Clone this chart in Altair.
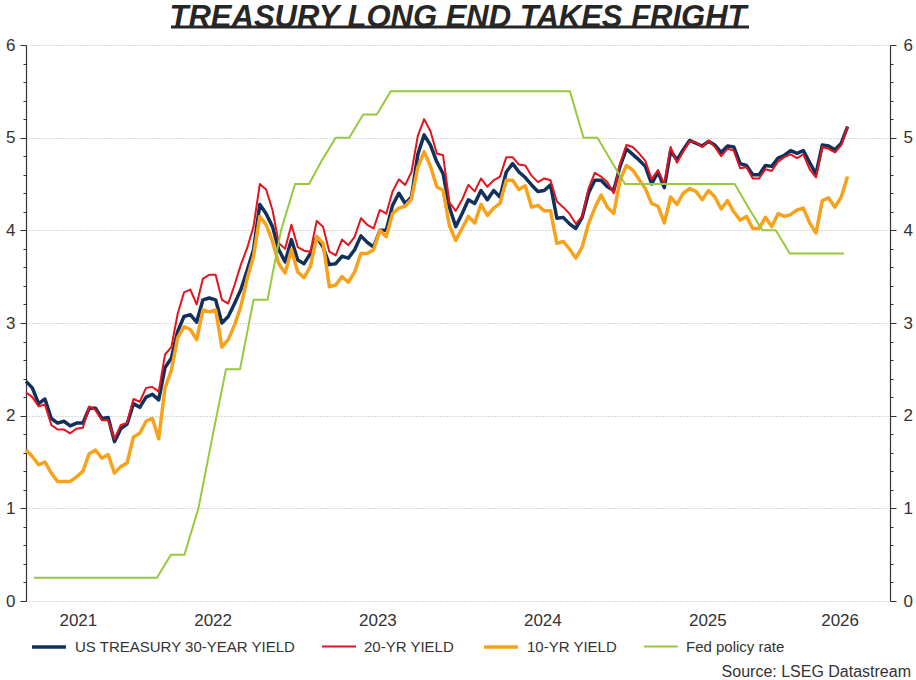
import altair as alt
import pandas as pd

# ---- data -------------------------------------------------------------
# Treasury yields, one observation every two weeks from 14 May 2021 (%)
OBS_START = "2021-05-14"

UST30 = [2.37, 2.30, 2.13, 2.18, 1.97, 1.92, 1.94, 1.89, 1.92, 1.92,
         2.08, 2.08, 1.97, 1.98, 1.72, 1.86, 1.91, 2.13, 2.09, 2.20,
         2.23, 2.17, 2.52, 2.62, 2.91, 3.07, 3.09, 3.01, 3.25, 3.27,
         3.25, 3.00, 3.07, 3.21, 3.36, 3.57, 3.79, 4.28, 4.18, 4.04,
         3.79, 3.66, 3.90, 3.68, 3.64, 3.75, 3.93, 3.82, 3.63, 3.64,
         3.72, 3.70, 3.79, 3.94, 3.87, 3.82, 4.00, 4.00, 4.27, 4.40,
         4.29, 4.36, 4.82, 5.03, 4.92, 4.74, 4.61, 4.25, 4.04, 4.18,
         4.33, 4.29, 4.43, 4.33, 4.43, 4.36, 4.63, 4.72, 4.63, 4.57,
         4.49, 4.42, 4.43, 4.49, 4.13, 4.14, 4.07, 4.02, 4.14, 4.40,
         4.54, 4.54, 4.47, 4.43, 4.69, 4.88, 4.82, 4.76, 4.69, 4.50,
         4.63, 4.46, 4.86, 4.76, 4.87, 4.97, 4.94, 4.91, 4.96, 4.92,
         4.84, 4.91, 4.90, 4.72, 4.70, 4.60, 4.60, 4.70, 4.69, 4.78,
         4.81, 4.86, 4.83, 4.86, 4.73, 4.61, 4.92, 4.91, 4.87, 4.94,
         5.12]

UST20 = [2.25, 2.20, 2.10, 2.12, 1.90, 1.85, 1.85, 1.81, 1.86, 1.87,
         2.10, 2.06, 1.95, 1.95, 1.75, 1.90, 1.92, 2.18, 2.15, 2.30,
         2.31, 2.26, 2.66, 2.74, 3.10, 3.33, 3.36, 3.20, 3.48, 3.52,
         3.52, 3.25, 3.21, 3.41, 3.63, 3.81, 4.04, 4.50, 4.44, 4.22,
         3.86, 3.80, 4.06, 3.82, 3.78, 3.77, 4.10, 4.04, 3.77, 3.73,
         3.90, 3.84, 3.93, 4.13, 4.06, 4.02, 4.22, 4.18, 4.42, 4.55,
         4.49, 4.63, 5.02, 5.20, 5.07, 4.83, 4.81, 4.30, 4.21, 4.33,
         4.49, 4.42, 4.56, 4.47, 4.54, 4.58, 4.79, 4.79, 4.71, 4.70,
         4.59, 4.52, 4.56, 4.54, 4.31, 4.25, 4.18, 4.07, 4.15, 4.45,
         4.62, 4.58, 4.52, 4.40, 4.72, 4.92, 4.90, 4.83, 4.75, 4.55,
         4.65, 4.50, 4.90, 4.73, 4.85, 4.96, 4.95, 4.90, 4.97, 4.90,
         4.80, 4.88, 4.86, 4.67, 4.68, 4.56, 4.56, 4.66, 4.64, 4.74,
         4.79, 4.82, 4.78, 4.82, 4.66, 4.57, 4.90, 4.88, 4.84, 4.92,
         5.12]

UST10 = [1.63, 1.56, 1.47, 1.50, 1.38, 1.29, 1.29, 1.29, 1.34, 1.40,
         1.59, 1.63, 1.54, 1.58, 1.38, 1.45, 1.49, 1.77, 1.81, 1.94,
         1.97, 1.75, 2.30, 2.49, 2.84, 2.96, 2.93, 2.82, 3.14, 3.12,
         3.14, 2.74, 2.82, 2.98, 3.18, 3.48, 3.72, 4.15, 4.06, 3.88,
         3.64, 3.54, 3.79, 3.55, 3.49, 3.61, 3.93, 3.86, 3.39, 3.41,
         3.50, 3.44, 3.55, 3.75, 3.75, 3.79, 4.00, 3.93, 4.18, 4.24,
         4.26, 4.34, 4.68, 4.85, 4.69, 4.47, 4.43, 4.05, 3.89, 4.02,
         4.15, 4.08, 4.28, 4.16, 4.24, 4.29, 4.54, 4.54, 4.44, 4.48,
         4.25, 4.27, 4.21, 4.21, 3.86, 3.88, 3.80, 3.70, 3.82, 4.07,
         4.24, 4.38, 4.25, 4.18, 4.54, 4.70, 4.65, 4.55, 4.45, 4.29,
         4.26, 4.08, 4.36, 4.28, 4.40, 4.45, 4.42, 4.33, 4.43, 4.36,
         4.23, 4.32, 4.20, 4.11, 4.15, 4.02, 4.02, 4.14, 4.04, 4.18,
         4.15, 4.17, 4.22, 4.24, 4.08, 3.97, 4.32, 4.35, 4.25, 4.36,
         4.58]

# Fed funds target (upper bound), month-end values from May 2021 (%)
FED_START = "2021-05-31"
FED = [0.25, 0.25, 0.25, 0.25, 0.25, 0.25, 0.25, 0.25,
       0.25, 0.25, 0.50, 0.50, 1.00, 1.75, 2.50, 2.50, 3.25, 3.25, 4.00, 4.50,
       4.50, 4.75, 5.00, 5.00, 5.25, 5.25, 5.50, 5.50, 5.50, 5.50, 5.50, 5.50,
       5.50, 5.50, 5.50, 5.50, 5.50, 5.50, 5.50, 5.50, 5.00, 5.00, 4.75, 4.50,
       4.50, 4.50, 4.50, 4.50, 4.50, 4.50, 4.50, 4.50, 4.25, 4.00, 4.00, 3.75,
       3.75, 3.75, 3.75, 3.75]

SERIES = ["US TREASURY 30-YEAR YIELD", "20-YR YIELD", "10-YR YIELD",
          "Fed policy rate"]
COLORS = ["#11305b", "#e5131d", "#f8a21c", "#98c83b"]
WIDTHS = [3.5, 2.0, 3.5, 2.0]

TITLE = "TREASURY LONG END TAKES FRIGHT"
SOURCE = ["Source: LSEG Datastream"]

X_START = pd.Timestamp("2021-05-14")
X_END = pd.Timestamp("2026-08-10")
YEARS = list(range(2021, 2027))
Y_TICKS = [round(i * 0.2, 1) for i in range(31)]

# ---- layout -------------------------------------------------------------
W, H = 864, 556
FONT = "Liberation Sans"
TEXT = "#333333"
GRID = "#b3b3b3"

# ---- frames ---------------------------------------------------------------
obs_dates = pd.date_range(OBS_START, periods=len(UST30), freq="14D")
fed_dates = pd.date_range(FED_START, periods=len(FED), freq=pd.offsets.MonthEnd())

frames = [pd.DataFrame({"date": obs_dates, "value": vals, "series": name})
          for name, vals in zip(SERIES[:3], [UST30, UST20, UST10])]
frames.append(pd.DataFrame({"date": fed_dates, "value": FED, "series": SERIES[3]}))
lines = pd.concat(frames, ignore_index=True)


def to_dt(ts):
    return alt.DateTime(year=ts.year, month=ts.month, date=ts.day)


# year labels sit in the middle of the visible part of each year
label_rows = []
for yr in YEARS:
    lo = max(X_START, pd.Timestamp(yr, 1, 1))
    hi = min(X_END, pd.Timestamp(yr + 1, 1, 1))
    label_rows.append({"date": lo + (hi - lo) / 2, "label": str(yr)})
year_labels = pd.DataFrame(label_rows)

quarter_ticks = [to_dt(pd.Timestamp(y, m, 1))
                 for y in YEARS for m in (1, 4, 7, 10)
                 if X_START <= pd.Timestamp(y, m, 1) <= X_END]

x_scale = alt.Scale(domain=[to_dt(X_START), to_dt(X_END)])
y_scale = alt.Scale(domain=[0, 6], nice=False, zero=False)
color_scale = alt.Scale(domain=SERIES, range=COLORS)
width_scale = alt.Scale(type="ordinal", domain=SERIES, range=WIDTHS)

IS_INT = "abs(datum.value - round(datum.value)) < 1e-6"
INT_LABEL = f"{IS_INT} ? format(datum.value, 'd') : ''"

legend = alt.Legend(
    title=None, orient="none", legendX=4, legendY=583, direction="horizontal",
    symbolType="stroke", symbolSize=1150, labelFontSize=15, labelColor=TEXT,
    labelFont=FONT, columnPadding=22, labelOffset=7, labelLimit=400,
)

x_axis = alt.Axis(
    values=quarter_ticks, labels=False, title=None, grid=True,
    gridColor=GRID, gridDash=[1, 2], gridWidth=1,
    gridOpacity={"condition": {"test": "month(datum.value) === 0", "value": 1}, "value": 0},
    tickSize={"condition": {"test": "month(datum.value) === 0", "value": 8}, "value": 4},
    tickColor=TEXT, domainColor=TEXT, domainWidth=1.2,
)

left_axis = alt.Axis(
    orient="left", values=Y_TICKS, title=None, labelExpr=INT_LABEL,
    labelFontSize=17, labelColor=TEXT, labelPadding=5, labelOverlap=False,
    grid=True, gridColor=GRID, gridDash=[1, 2],
    gridOpacity={"condition": {"test": IS_INT, "value": 1}, "value": 0},
    tickSize={"condition": {"test": IS_INT, "value": 6}, "value": 3},
    tickColor=TEXT, domainColor=TEXT, domainWidth=1.2,
)

right_axis = alt.Axis(
    orient="right", values=Y_TICKS, title=None, labelExpr=INT_LABEL,
    labelFontSize=17, labelColor=TEXT, labelPadding=7, labelOverlap=False,
    grid=False,
    tickSize={"condition": {"test": IS_INT, "value": 6}, "value": 3},
    tickColor=TEXT, domainColor=TEXT, domainWidth=1.2,
)


def series_layer(name, xa, ya):
    return alt.Chart(lines).transform_filter(
        alt.datum.series == name
    ).mark_line(strokeJoin="round").encode(
        x=alt.X("date:T", scale=x_scale, axis=xa),
        y=alt.Y("value:Q", scale=y_scale, axis=ya),
        color=alt.Color("series:N", scale=color_scale, legend=legend),
        strokeWidth=alt.StrokeWidth("series:N", scale=width_scale, legend=legend),
    )


l30 = series_layer(SERIES[0], x_axis, left_axis)
l20 = series_layer(SERIES[1], None, None)
l10 = series_layer(SERIES[2], None, None)
lfed = series_layer(SERIES[3], None, right_axis)

years_text = alt.Chart(year_labels).mark_text(
    fontSize=17, font=FONT, color=TEXT, baseline="middle", align="center"
).encode(
    x=alt.X("date:T", scale=x_scale, axis=None),
    y=alt.value(H + 20),
    text="label:N",
)

source_text = alt.Chart(pd.DataFrame({"t": SOURCE})).mark_text(
    fontSize=16, font=FONT, color=TEXT, align="right", baseline="middle"
).encode(x=alt.value(W + 21), y=alt.value(H + 71), text="t:N")

underline = alt.Chart(pd.DataFrame({"t": [TITLE]})).mark_rule(
    color="#262626", strokeWidth=3
).encode(x=alt.value(W / 2 - 287), x2=alt.value(W / 2 + 291), y=alt.value(-18))

chart = alt.layer(
    l30, l20, l10, lfed, years_text, source_text, underline
).resolve_scale(
    y="independent"
).resolve_axis(
    y="independent"
).properties(
    width=W, height=H,
    title=alt.TitleParams(
        TITLE, font=FONT, fontSize=31, fontWeight="bold", fontStyle="italic",
        color="#262626", anchor="middle", offset=-8,
    ),
    padding={"left": 26, "top": 45, "right": 26, "bottom": 79},
    autosize=alt.AutoSizeParams(type="none"),
).configure(
    font=FONT
).configure_view(
    stroke=None
)

chart.save("out.html", embed_options={"renderer": "svg", "actions": False})
